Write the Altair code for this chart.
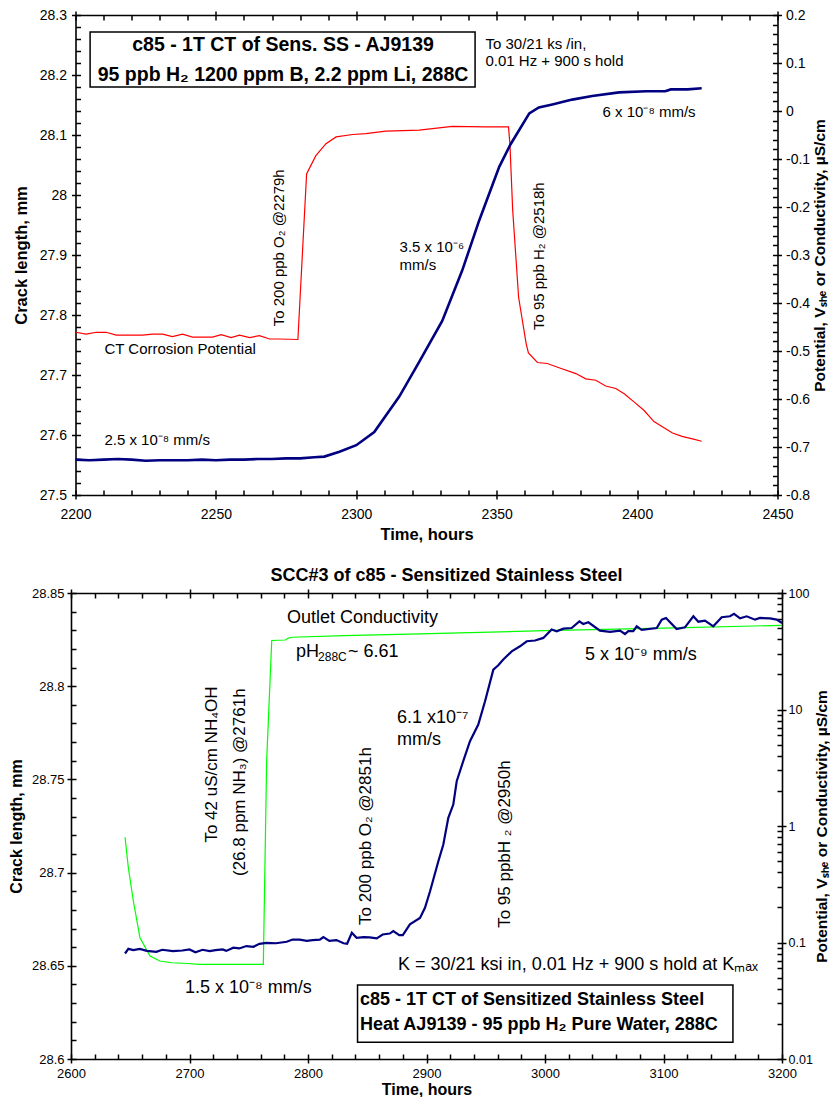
import altair as alt
import pandas as pd

FONT = "Liberation Sans"

# ---------------- top panel data ----------------
top_crack_time = [2200, 2205, 2210, 2215, 2220, 2225, 2230, 2235, 2240, 2245, 2250, 2255, 2260, 2265,
                  2270, 2275, 2280, 2285, 2288.6, 2294, 2300, 2306.4, 2315.3, 2322.4, 2326, 2330.6,
                  2337.7, 2343.8, 2350.9, 2355, 2361.6, 2365, 2369.8, 2376.9, 2384, 2393.6, 2403.2,
                  2410, 2412, 2418, 2423]
top_crack_mm = [27.559, 27.558, 27.559, 27.560, 27.559, 27.557, 27.558, 27.558, 27.558, 27.559, 27.558,
                27.559, 27.559, 27.560, 27.560, 27.561, 27.561, 27.563, 27.564, 27.572, 27.583, 27.605,
                27.664, 27.722, 27.752, 27.790, 27.874, 27.958, 28.047, 28.085, 28.136, 28.146, 28.151,
                28.159, 28.165, 28.171, 28.173, 28.173, 28.176, 28.176, 28.178]

top_pot_time = [2200, 2203.8, 2207.4, 2210.9, 2214.5, 2223.9, 2227.4, 2231, 2234.5, 2238.1, 2241.7,
                2248.8, 2251.9, 2255.4, 2258.4, 2262, 2265.5, 2269.1, 2272.6, 2279.2, 2282.3, 2285.6,
                2289.2, 2292.8, 2298.7, 2303.4, 2310.5, 2322.4, 2334.2, 2346, 2354.2, 2354.7, 2355.7,
                2357.8, 2360.5, 2361.3, 2364.5, 2368, 2372.2, 2378.2, 2381.7, 2385.3, 2388.8, 2392.4,
                2395.4, 2398.9, 2402.5, 2406, 2409, 2412.6, 2416, 2419.7, 2423]
top_pot_v = [-0.461, -0.465, -0.461, -0.461, -0.467, -0.467, -0.465, -0.465, -0.470, -0.465, -0.471,
             -0.471, -0.466, -0.472, -0.467, -0.472, -0.468, -0.475, -0.475, -0.476, -0.131, -0.093,
             -0.068, -0.054, -0.049, -0.047, -0.042, -0.040, -0.032, -0.033, -0.033, -0.068, -0.207,
             -0.388, -0.485, -0.504, -0.524, -0.526, -0.535, -0.547, -0.558, -0.561, -0.573, -0.578,
             -0.589, -0.606, -0.624, -0.647, -0.658, -0.671, -0.678, -0.683, -0.688]

# ---------------- bottom panel data ----------------
bot_crack_time = [2645.6, 2648.4, 2652.6, 2658, 2664, 2672, 2677, 2686, 2694, 2700, 2705, 2711, 2717,
                  2722, 2728, 2731, 2737, 2742, 2748, 2754, 2759, 2765, 2773, 2782, 2787, 2793, 2799,
                  2804, 2810, 2813, 2818, 2824, 2830, 2833, 2837, 2841, 2847, 2852, 2858, 2863, 2869,
                  2872, 2877, 2880, 2886, 2894.5, 2898.7, 2903, 2910, 2914.2, 2918.4, 2922.6, 2925.5,
                  2931, 2936.7, 2943.7, 2949.4, 2956.4, 2960.6, 2964.8, 2971.9, 2978.9, 2984.6, 2991.6,
                  2998.6, 3005.6, 3009.9, 3015.5, 3022.5, 3029, 3032.3, 3036.6, 3046.4, 3054.9, 3063.3,
                  3067.5, 3070.3, 3074.5, 3077.4, 3081.6, 3094.3, 3098.5, 3102.1, 3111.1, 3118.1,
                  3125.2, 3129.4, 3135, 3142, 3149.1, 3156.1, 3159.5, 3164.6, 3170.2, 3177.2, 3181.4,
                  3189.9, 3195.5, 3200]
bot_crack_mm = [28.6566, 28.6591, 28.6584, 28.6591, 28.6580, 28.6575, 28.6586, 28.6579, 28.6582,
                28.6588, 28.6573, 28.6586, 28.6579, 28.6584, 28.6588, 28.6580, 28.6597, 28.6593,
                28.6606, 28.6602, 28.6618, 28.6623, 28.6621, 28.6629, 28.6641, 28.6640, 28.6634,
                28.6638, 28.6640, 28.6654, 28.6634, 28.6638, 28.6621, 28.6618, 28.6677, 28.6650,
                28.6654, 28.6652, 28.6647, 28.6668, 28.6673, 28.6686, 28.6665, 28.6665, 28.6722,
                28.6757, 28.6811, 28.6900, 28.7061, 28.7151, 28.7294, 28.7365, 28.7490, 28.7598,
                28.7705, 28.7794, 28.7919, 28.8089, 28.8112, 28.8143, 28.8187, 28.8214, 28.8241,
                28.8245, 28.8259, 28.8304, 28.8295, 28.8309, 28.8312, 28.8348, 28.8334, 28.8343,
                28.8298, 28.8291, 28.8298, 28.8280, 28.8295, 28.8295, 28.8321, 28.8302, 28.8312,
                28.8357, 28.8366, 28.8307, 28.8316, 28.8375, 28.8346, 28.8352, 28.8321, 28.8370,
                28.8375, 28.8388, 28.8364, 28.8375, 28.8357, 28.8366, 28.8364, 28.8357, 28.8339]

bot_cond_time = [2645.6, 2648.4, 2652.6, 2658.2, 2666.7, 2675, 2685, 2698.7, 2708, 2762.3, 2765.1,
                 2769.4, 2781, 2783.4, 2786.3, 2830, 2894.5, 3000, 3100, 3200]
bot_cond = [0.80, 0.438, 0.227, 0.11, 0.0766, 0.0694, 0.067, 0.066, 0.065, 0.065, 3.6, 39.1, 39.5,
            41.0, 41.7, 43.0, 44.5, 47.5, 50.0, 52.8]

# ---------------- tick labels ----------------
top_x_major = [2200, 2250, 2300, 2350, 2400, 2450]
top_x_minor = list(range(2200, 2451, 10))
top_y_major = [27.5, 27.6, 27.7, 27.8, 27.9, 28, 28.1, 28.2, 28.3]
top_y_minor = [round(27.5 + 0.02 * i, 2) for i in range(41)]
top_p_major = [-0.8, -0.7, -0.6, -0.5, -0.4, -0.3, -0.2, -0.1, 0, 0.1, 0.2]
top_p_minor = [round(-0.8 + 0.02 * i, 2) for i in range(51)]

bot_x_major = [2600, 2700, 2800, 2900, 3000, 3100, 3200]
bot_x_minor = list(range(2600, 3201, 20))
bot_y_major = [28.6, 28.65, 28.7, 28.75, 28.8, 28.85]
bot_y_minor = [round(28.6 + 0.01 * i, 2) for i in range(26)]
bot_c_major = [0.01, 0.1, 1, 10, 100]
bot_c_minor = [k * 10 ** e for e in range(-2, 2) for k in range(1, 10)] + [100]

# ---------------- annotations ----------------
top_notes = ["To 30/21 ks  /in,", "0.01 Hz + 900 s hold", "6 x 10⁻⁸ mm/s", "3.5 x 10⁻⁶", "mm/s",
             "CT Corrosion Potential", "2.5 x 10⁻⁸ mm/s"]
top_notes_t = [2346, 2346, 2387.7, 2315.4, 2315.4, 2210.3, 2210.3]
top_notes_v = [28.2427, 28.2143, 28.130, 27.905, 27.8755, 27.7343, 27.5827]

top_vnotes = ["To 200 ppb O₂ @2279h", "To 95 ppb H₂ @2518h"]
top_vnotes_t = [2272.6, 2365.2]
top_vnotes_v = [27.912, 27.898]

top_box_lines = ["c85 - 1T CT of Sens. SS - AJ9139", "95 ppb H₂ 1200 ppm B, 2.2 ppm Li, 288C"]
top_box_lines_t = [2273.9, 2273.9]
top_box_lines_v = [28.2405, 28.1905]
top_box_t = [2205.2, 2342.3]
top_box_v = [28.180, 28.2717]

bot_title = "SCC#3 of c85 - Sensitized Stainless Steel"
bot_notes = ["Outlet Conductivity", "5 x 10⁻⁹ mm/s", "6.1 x10⁻⁷", "mm/s", "1.5 x 10⁻⁸ mm/s",
             "K = 30/21 ksi in, 0.01 Hz + 900 s hold at Kₘₐₓ", "pH", "~ 6.61"]
bot_notes_t = [2782.3, 3033.8, 2875.1, 2875.1, 2696.2, 2876, 2789.9, 2789.9]
bot_notes_v = [28.8339, 28.8138, 28.7803, 28.7687, 28.6355, 28.648, 28.8155, 28.8155]
bot_sub = ["288C"]
bot_sub_t = [2789.9]
bot_sub_v = [28.8155]

bot_vnotes = ["To  42 uS/cm NH₄OH", "(26.8 ppm NH₃) @2761h", "To 200 ppb O₂ @2851h", "To 95 ppbH ₂ @2950h"]
bot_vnotes_t = [2719, 2742.6, 2849, 2966.2]
bot_vnotes_v = [28.758, 28.7485, 28.7196, 28.7153]

bot_box_lines = ["c85 - 1T CT of Sensitized Stainless Steel", "Heat AJ9139 - 95 ppb H₂ Pure Water, 288C"]
bot_box_lines_t = [2843.9, 2843.9]
bot_box_lines_v = [28.6316, 28.6182]
bot_box_t = [2841.8, 3158.6]
bot_box_v = [28.609, 28.6397]

Y_TITLE = "Crack length, mm"
X_TITLE = "Time, hours"
R_TITLE = "Potential, Vₛₕₑ or Conductivity, µS/cm"


def axis(orient, values, labels=False, title=None, tick=4, domain=False, offset=0, lab_size=14,
         title_size=16, label_pad=4, title_pad=6, title_angle=None, title_baseline=None):
    kw = dict(orient=orient, values=values, labels=labels, ticks=True, tickSize=tick, tickWidth=1.5,
              tickColor="black", domain=domain, domainColor="black", domainWidth=1.6, grid=False,
              offset=offset, title=title, minExtent=0)
    if labels:
        kw.update(labelFont=FONT, labelFontSize=lab_size, labelColor="black", labelPadding=label_pad,
                  labelExpr="toString(datum.value)", labelFlush=False, labelOverlap=False)
    if title:
        kw.update(titleFont=FONT, titleFontSize=title_size, titleFontWeight="bold", titleColor="black",
                  titlePadding=title_pad)
        if title_angle is not None:
            kw["titleAngle"] = title_angle
        if title_baseline:
            kw["titleBaseline"] = title_baseline
    return alt.Axis(**kw)


def text_layer(labels, ts, vs, xs, ys, **mark):
    df = pd.DataFrame({"t": ts, "v": vs, "label": labels})
    props = dict(font=FONT, color="black")
    props.update(mark)
    return alt.Chart(df).mark_text(**props).encode(
        x=alt.X("t:Q", scale=xs, axis=None),
        y=alt.Y("v:Q", scale=ys, axis=None),
        text="label:N",
    )


def box_layer(ts, vs, xs, ys):
    df = pd.DataFrame({"t": [ts[0]], "t2": [ts[1]], "v": [vs[0]], "v2": [vs[1]]})
    return alt.Chart(df).mark_rect(fill="white", stroke="black", strokeWidth=1.5).encode(
        x=alt.X("t:Q", scale=xs, axis=None), x2="t2:Q",
        y=alt.Y("v:Q", scale=ys, axis=None), y2="v2:Q",
    )


# ================= TOP PANEL =================
W1, H1 = 702, 480
xs1 = alt.Scale(domain=[2200, 2450], nice=False, zero=False)
ys1 = alt.Scale(domain=[27.5, 28.3], nice=False, zero=False)
ps1 = alt.Scale(domain=[-0.8, 0.2], nice=False, zero=False)

crack1 = pd.DataFrame({"t": top_crack_time, "v": top_crack_mm})
pot1 = pd.DataFrame({"t": top_pot_time, "v": top_pot_v})

t_L1 = alt.Chart(crack1).mark_line(color="#000080", strokeWidth=2.6).encode(
    x=alt.X("t:Q", scale=xs1, axis=axis("bottom", top_x_major, labels=True, title=X_TITLE, domain=True,
                                        label_pad=8, title_pad=5, title_size=16.5)),
    y=alt.Y("v:Q", scale=ys1, axis=axis("left", top_y_major, labels=True, title=Y_TITLE, domain=True,
                                        label_pad=5, title_pad=10, title_size=16.5)),
)
t_L2 = alt.Chart(pot1).mark_line(color="#ff0000", strokeWidth=1.2).encode(
    x=alt.X("t:Q", scale=xs1, axis=axis("top", top_x_major, domain=True)),
    y=alt.Y("v:Q", scale=ps1, axis=axis("right", top_p_major, labels=True, title=R_TITLE, domain=True,
                                        label_pad=4, title_pad=3, title_size=15.5, title_angle=270,
                                        title_baseline="top")),
)
t_L3 = alt.Chart(crack1).mark_point(opacity=0).encode(
    x=alt.X("t:Q", scale=xs1, axis=axis("top", top_x_minor, tick=5, offset=-H1)),
    y=alt.Y("v:Q", scale=ys1, axis=axis("right", top_y_minor, tick=5, offset=-W1)),
)
t_L4 = alt.Chart(pot1).mark_point(opacity=0).encode(
    x=alt.X("t:Q", scale=xs1, axis=axis("bottom", top_x_minor, tick=5, offset=-H1)),
    y=alt.Y("v:Q", scale=ps1, axis=axis("left", top_p_minor, tick=5, offset=-W1)),
)

top = alt.layer(
    t_L4, t_L3, t_L2, t_L1,
    box_layer(top_box_t, top_box_v, xs1, ys1),
    text_layer(top_box_lines, top_box_lines_t, top_box_lines_v, xs1, ys1, fontSize=19.5,
               fontWeight="bold", align="center", baseline="alphabetic"),
    text_layer(top_notes, top_notes_t, top_notes_v, xs1, ys1, fontSize=15, align="left",
               baseline="alphabetic"),
    text_layer(top_vnotes, top_vnotes_t, top_vnotes_v, xs1, ys1, fontSize=15, align="center",
               baseline="middle", angle=270),
).resolve_scale(y="independent").resolve_axis(x="independent", y="independent").properties(
    width=W1, height=H1)

# ================= BOTTOM PANEL =================
W2, H2 = 711, 466
xs2 = alt.Scale(domain=[2600, 3200], nice=False, zero=False)
ys2 = alt.Scale(domain=[28.6, 28.85], nice=False, zero=False)
cs2 = alt.Scale(type="log", domain=[0.01, 100], nice=False)

crack2 = pd.DataFrame({"t": bot_crack_time, "v": bot_crack_mm})
cond2 = pd.DataFrame({"t": bot_cond_time, "v": bot_cond})

b_L1 = alt.Chart(crack2).mark_line(color="#000080", strokeWidth=2.2).encode(
    x=alt.X("t:Q", scale=xs2, axis=axis("bottom", bot_x_major, labels=True, title=X_TITLE, domain=True,
                                        lab_size=13, label_pad=4, title_pad=1, title_size=16)),
    y=alt.Y("v:Q", scale=ys2, axis=axis("left", bot_y_major, labels=True, title=Y_TITLE, domain=True,
                                        lab_size=13, label_pad=3, title_pad=7, title_size=16)),
)
b_L2 = alt.Chart(cond2).mark_line(color="#00ff00", strokeWidth=1.2).encode(
    x=alt.X("t:Q", scale=xs2, axis=axis("top", bot_x_major, domain=True)),
    y=alt.Y("v:Q", scale=cs2, axis=axis("right", bot_c_major, labels=True, title=R_TITLE, domain=True,
                                        lab_size=12.5, label_pad=2, title_pad=2, title_size=15.5,
                                        title_angle=270, title_baseline="top")),
)
b_L3 = alt.Chart(crack2).mark_point(opacity=0).encode(
    x=alt.X("t:Q", scale=xs2, axis=axis("top", bot_x_minor, tick=5, offset=-H2)),
    y=alt.Y("v:Q", scale=ys2, axis=axis("right", bot_y_minor, tick=5, offset=-W2)),
)
b_L4 = alt.Chart(cond2).mark_point(opacity=0).encode(
    x=alt.X("t:Q", scale=xs2, axis=axis("bottom", bot_x_minor, tick=5, offset=-H2)),
    y=alt.Y("v:Q", scale=cs2, axis=axis("left", bot_c_minor, tick=5, offset=-W2)),
)

bottom = alt.layer(
    b_L4, b_L3, b_L2, b_L1,
    box_layer(bot_box_t, bot_box_v, xs2, ys2),
    text_layer(bot_box_lines, bot_box_lines_t, bot_box_lines_v, xs2, ys2, fontSize=18,
               fontWeight="bold", align="left", baseline="middle"),
    text_layer(bot_notes[:6], bot_notes_t[:6], bot_notes_v[:6], xs2, ys2, fontSize=18, align="left",
               baseline="alphabetic"),
    text_layer(bot_notes[6:7], bot_notes_t[6:7], bot_notes_v[6:7], xs2, ys2, fontSize=18, align="left",
               baseline="alphabetic"),
    text_layer(bot_sub, bot_sub_t, bot_sub_v, xs2, ys2, fontSize=12, align="left",
               baseline="alphabetic", dx=22, dy=4),
    text_layer(bot_notes[7:], bot_notes_t[7:], bot_notes_v[7:], xs2, ys2, fontSize=18, align="left",
               baseline="alphabetic", dx=52),
    text_layer(bot_vnotes, bot_vnotes_t, bot_vnotes_v, xs2, ys2, fontSize=17, align="center",
               baseline="middle", angle=270),
).resolve_scale(y="independent").resolve_axis(x="independent", y="independent").properties(
    width=W2, height=H2,
    title=alt.TitleParams(bot_title, font=FONT, fontSize=18, fontWeight="bold", color="black",
                          anchor="middle", offset=2, dx=20),
)

chart = alt.vconcat(top, bottom, spacing=98, center=True, bounds="flush").properties(
    padding={"left": 0, "top": 0, "right": 0, "bottom": 0},
    background="white",
).configure_view(strokeWidth=0)

chart.save("out.html", embed_options={"renderer": "svg", "actions": False})
